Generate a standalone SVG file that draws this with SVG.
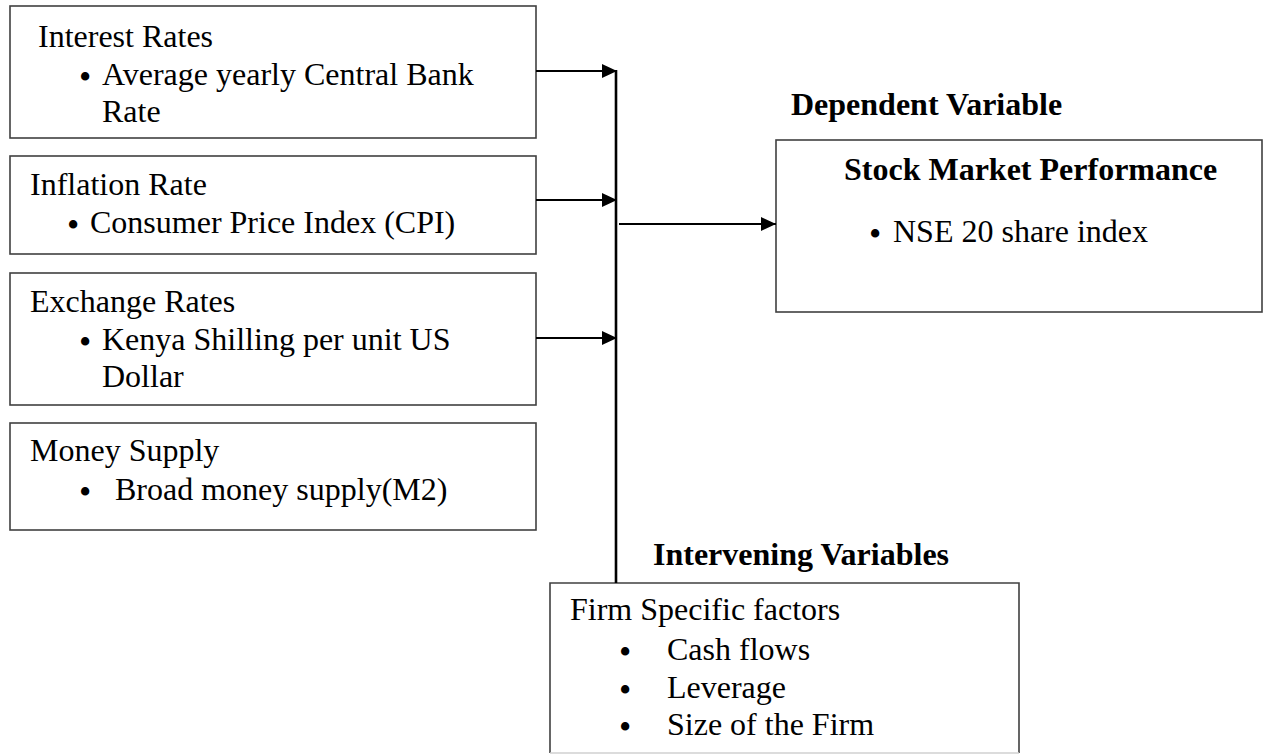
<svg xmlns="http://www.w3.org/2000/svg" width="1263" height="754" viewBox="0 0 1263 754">
<style>
.box{fill:#fff;stroke:#404040;stroke-width:1.6}
.t{font-family:"Liberation Serif","Times New Roman",serif;font-size:32px;fill:#000}
.b{font-weight:bold}
.u{font-family:"Liberation Serif","Times New Roman",serif;font-size:35px;fill:#000}
.c{stroke:#000;stroke-width:2;fill:none}
.v{stroke:#000;stroke-width:2.6;fill:none}
</style>
<defs>
<marker id="ah" markerWidth="15" markerHeight="14" refX="15" refY="7" orient="auto" markerUnits="userSpaceOnUse">
<path d="M0,0 L15,7 L0,14 Z" fill="#000"/>
</marker>
</defs>
<rect width="1263" height="754" fill="#fff"/>
<g id="interest">
<rect class="box" x="10" y="6" width="526" height="132"/>
<text class="t" x="38" y="47">Interest Rates</text>
<text class="u" x="79" y="89">•</text>
<text class="t" x="102" y="85">Average yearly Central Bank</text>
<text class="t" x="102" y="122">Rate</text>
</g>
<g id="inflation">
<rect class="box" x="10" y="156" width="526" height="98"/>
<text class="t" x="30" y="195">Inflation Rate</text>
<text class="u" x="67" y="237">•</text>
<text class="t" x="90" y="233">Consumer Price Index (CPI)</text>
</g>
<g id="exchange">
<rect class="box" x="10" y="273" width="526" height="132"/>
<text class="t" x="30" y="312">Exchange Rates</text>
<text class="u" x="79" y="354">•</text>
<text class="t" x="102" y="350">Kenya Shilling per unit US</text>
<text class="t" x="102" y="387">Dollar</text>
</g>
<g id="money">
<rect class="box" x="10" y="423" width="526" height="107"/>
<text class="t" x="30" y="461">Money Supply</text>
<text class="u" x="79" y="504">•</text>
<text class="t" x="115" y="500">Broad money supply(M2)</text>
</g>
<g id="dependent">
<text class="t b" x="791" y="115">Dependent Variable</text>
<rect class="box" x="776" y="140" width="486" height="172"/>
<text class="t b" x="844" y="180">Stock Market Performance</text>
<text class="u" x="869" y="246">•</text>
<text class="t" x="893" y="242">NSE 20 share index</text>
</g>
<g id="intervening">
<text class="t b" x="653" y="565">Intervening Variables</text>
<path d="M550,753 L550,583 L1019,583 L1019,753" fill="#fff" stroke="#404040" stroke-width="1.6"/>
<line x1="550" y1="753" x2="1019" y2="753" stroke="#d0d0d0" stroke-width="1.5"/>
<text class="t" x="570" y="620">Firm Specific factors</text>
<text class="u" x="619" y="664">•</text>
<text class="t" x="667" y="660">Cash flows</text>
<text class="u" x="619" y="702">•</text>
<text class="t" x="667" y="698">Leverage</text>
<text class="u" x="619" y="739">•</text>
<text class="t" x="667" y="735">Size of the Firm</text>
</g>
<g id="connectors">
<line class="c" x1="536" y1="71" x2="617" y2="71" marker-end="url(#ah)"/>
<line class="c" x1="536" y1="200" x2="617" y2="200" marker-end="url(#ah)"/>
<line class="c" x1="536" y1="338" x2="617" y2="338" marker-end="url(#ah)"/>
<line class="v" x1="616" y1="70" x2="616" y2="583"/>
<line class="c" x1="619" y1="224" x2="776" y2="224" marker-end="url(#ah)"/>
</g>
</svg>
